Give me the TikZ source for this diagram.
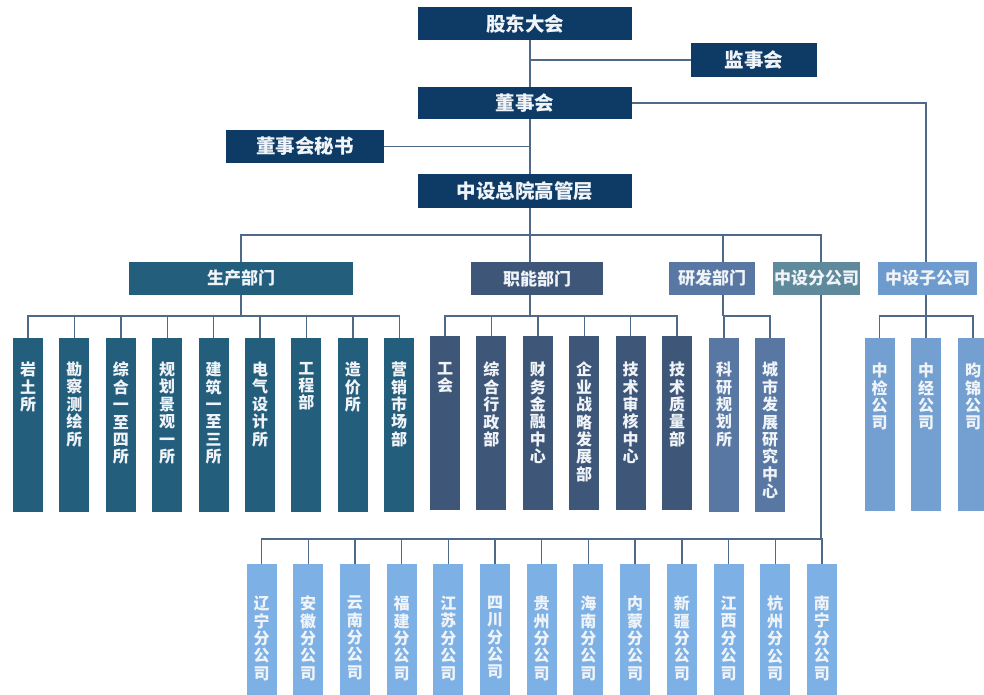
\documentclass[tikz,border=0pt]{standalone}
\usepackage{fontspec}
\setmainfont{Noto Sans CJK SC}
\usetikzlibrary{backgrounds}
\definecolor{navy}{RGB}{13,59,102}
\definecolor{prodc}{RGB}{36,94,125}
\definecolor{funcc}{RGB}{62,86,120}
\definecolor{rdc}{RGB}{88,120,163}
\definecolor{brc}{RGB}{95,138,155}
\definecolor{subc}{RGB}{110,155,205}
\definecolor{subkid}{RGB}{115,160,208}
\definecolor{botc}{RGB}{125,176,228}
\definecolor{linec}{RGB}{78,106,136}
\definecolor{txtc}{RGB}{240,244,248}
\newcommand\vstack[3]{\parbox[c][#1][t]{30pt}{\centering\fontsize{16}{17.4}\selectfont\vspace*{#2}#3\par}}
\begin{document}
\begin{tikzpicture}[x=1pt,y=-1pt,
  base/.style={inner sep=0pt, outer sep=0pt, text=txtc, font=\bfseries},
  topbox/.style={base, fill=navy, font=\bfseries\fontsize{19.5}{20}\selectfont},
  deptbox/.style={base, minimum height=33pt, font=\bfseries\fontsize{17}{18}\selectfont},
  vbox/.style={base, anchor=north},
  conn/.style={draw=linec, line width=1.4pt}
]
\useasboundingbox (0,0) rectangle (984,695);
\clip (0,0) rectangle (984,695);

% fixed x positions of trunks that are off-centre
\coordinate (trunk) at (530,0);
\coordinate (rdx) at (723,0);
\coordinate (brx) at (821,0);
\coordinate (subx) at (926,0);
\coordinate (busA) at (530,235);
\coordinate (busP) at (241,316);
\coordinate (busF) at (530,316);
\coordinate (busR) at (723,316);
\coordinate (busS) at (926,316);
\coordinate (busB) at (821,539);

% top
\node[topbox, minimum width=214pt, minimum height=33pt] (gd) at (525,23.5) {股东大会};
\node[topbox, minimum width=126pt, minimum height=34pt] (jsh) at (754,60) {监事会};
\node[topbox, minimum width=214pt, minimum height=32pt] (dsh) at (525,103) {董事会};
\node[topbox, minimum width=158pt, minimum height=33pt] (ms) at (305,146.5) {董事会秘书};
\node[topbox, minimum width=214pt, minimum height=34pt] (gm) at (525,191) {中设总院高管层};

% departments
\node[deptbox, fill=prodc, minimum width=224pt] (sc) at (241,278.5) {生产部门};
\node[deptbox, fill=funcc, minimum width=132pt] (zn) at (537,278.5) {职能部门};
\node[deptbox, fill=rdc, minimum width=86pt] (yf) at (712,278.5) {研发部门};
\node[deptbox, fill=brc, minimum width=87pt] (fgs) at (816.5,278.5) {中设分公司};
\node[deptbox, fill=subc, minimum width=99pt] (zgs) at (927.5,278.5) {中设子公司};

% production children
\node[vbox, fill=prodc] (p1) at (28,338) {\vstack{174pt}{24pt}{岩\\土\\所}};
\node[vbox, fill=prodc] (p2) at (74.4,338) {\vstack{174pt}{24pt}{勘\\察\\测\\绘\\所}};
\node[vbox, fill=prodc] (p3) at (120.8,338) {\vstack{174pt}{24pt}{综\\合\\一\\至\\四\\所}};
\node[vbox, fill=prodc] (p4) at (167.2,338) {\vstack{174pt}{24pt}{规\\划\\景\\观\\一\\所}};
\node[vbox, fill=prodc] (p5) at (213.6,338) {\vstack{174pt}{24pt}{建\\筑\\一\\至\\三\\所}};
\node[vbox, fill=prodc] (p6) at (260,338) {\vstack{174pt}{24pt}{电\\气\\设\\计\\所}};
\node[vbox, fill=prodc] (p7) at (306.4,338) {\vstack{174pt}{24pt}{工\\程\\部}};
\node[vbox, fill=prodc] (p8) at (352.8,338) {\vstack{174pt}{24pt}{造\\价\\所}};
\node[vbox, fill=prodc] (p9) at (399.2,338) {\vstack{174pt}{24pt}{营\\销\\市\\场\\部}};

% functional children
\node[vbox, fill=funcc] (f1) at (445,336) {\vstack{174pt}{26pt}{工\\会}};
\node[vbox, fill=funcc] (f2) at (491.4,336) {\vstack{174pt}{26pt}{综\\合\\行\\政\\部}};
\node[vbox, fill=funcc] (f3) at (537.8,336) {\vstack{174pt}{26pt}{财\\务\\金\\融\\中\\心}};
\node[vbox, fill=funcc] (f4) at (584.2,336) {\vstack{174pt}{26pt}{企\\业\\战\\略\\发\\展\\部}};
\node[vbox, fill=funcc] (f5) at (630.6,336) {\vstack{174pt}{26pt}{技\\术\\审\\核\\中\\心}};
\node[vbox, fill=funcc] (f6) at (677,336) {\vstack{174pt}{26pt}{技\\术\\质\\量\\部}};

% R&D children
\node[vbox, fill=rdc] (r1) at (724,338) {\vstack{174pt}{24pt}{科\\研\\规\\划\\所}};
\node[vbox, fill=rdc] (r2) at (770,338) {\vstack{174pt}{24pt}{城\\市\\发\\展\\研\\究\\中\\心}};

% subsidiaries
\node[vbox, fill=subkid] (s1) at (879.5,338) {\vstack{173pt}{25pt}{中\\检\\公\\司}};
\node[vbox, fill=subkid] (s2) at (926,338) {\vstack{173pt}{25pt}{中\\经\\公\\司}};
\node[vbox, fill=subkid] (s3) at (973,338) {\vstack{173pt}{25pt}{昀\\锦\\公\\司}};

% branches
\node[vbox, fill=botc] (b1) at (261.5,564) {\vstack{160pt}{32pt}{辽\\宁\\分\\公\\司}};
\node[vbox, fill=botc] (b2) at (308.2,564) {\vstack{160pt}{32pt}{安\\徽\\分\\公\\司}};
\node[vbox, fill=botc] (b3) at (354.9,564) {\vstack{160pt}{32pt}{云\\南\\分\\公\\司}};
\node[vbox, fill=botc] (b4) at (401.6,564) {\vstack{160pt}{32pt}{福\\建\\分\\公\\司}};
\node[vbox, fill=botc] (b5) at (448.3,564) {\vstack{160pt}{32pt}{江\\苏\\分\\公\\司}};
\node[vbox, fill=botc] (b6) at (495,564) {\vstack{160pt}{32pt}{四\\川\\分\\公\\司}};
\node[vbox, fill=botc] (b7) at (541.7,564) {\vstack{160pt}{32pt}{贵\\州\\分\\公\\司}};
\node[vbox, fill=botc] (b8) at (588.4,564) {\vstack{160pt}{32pt}{海\\南\\分\\公\\司}};
\node[vbox, fill=botc] (b9) at (635.1,564) {\vstack{160pt}{32pt}{内\\蒙\\分\\公\\司}};
\node[vbox, fill=botc] (b10) at (681.8,564) {\vstack{160pt}{32pt}{新\\疆\\分\\公\\司}};
\node[vbox, fill=botc] (b11) at (728.5,564) {\vstack{160pt}{32pt}{江\\西\\分\\公\\司}};
\node[vbox, fill=botc] (b12) at (775.2,564) {\vstack{160pt}{32pt}{杭\\州\\分\\公\\司}};
\node[vbox, fill=botc] (b13) at (821.9,564) {\vstack{160pt}{32pt}{南\\宁\\分\\公\\司}};

\begin{pgfonlayer}{background}
\clip (0,0) rectangle (984,695);
% top trunk
\draw[conn] (gd.south -| trunk) -- (gm.north -| trunk);
\draw[conn] (jsh.west) -- (jsh.west -| trunk);
\draw[conn] (ms.east) -- (ms.east -| trunk);
\draw[conn] (dsh.east) -| (zgs.north -| subx);
% level bus
\draw[conn] (gm.south -| trunk) -- (busA);
\draw[conn] (busA) -| (sc.north);
\draw[conn] (busA) -| (yf.north -| rdx);
\draw[conn] (busA) -| (fgs.north -| brx);
\draw[conn] (busA) -- (zn.north -| trunk);
% production
\draw[conn] (sc.south) -- (busP);
\foreach \n in {p1,p2,p3,p4,p5,p6,p7,p8,p9} \draw[conn] (busP) -| (\n.north);
% functional
\draw[conn] (zn.south -| trunk) -- (busF);
\foreach \n in {f1,f2,f3,f4,f5,f6} \draw[conn] (busF) -| (\n.north);
% R&D
\draw[conn] (yf.south -| rdx) -- (busR);
\foreach \n in {r1,r2} \draw[conn] (busR) -| (\n.north);
% subsidiaries
\draw[conn] (zgs.south -| subx) -- (busS);
\foreach \n in {s1,s2,s3} \draw[conn] (busS) -| (\n.north);
% branches
\draw[conn] (fgs.south -| brx) -- (busB);
\foreach \n in {b1,b2,b3,b4,b5,b6,b7,b8,b9,b10,b11,b12,b13} \draw[conn] (busB) -| (\n.north);
\end{pgfonlayer}
\end{tikzpicture}
\end{document}
